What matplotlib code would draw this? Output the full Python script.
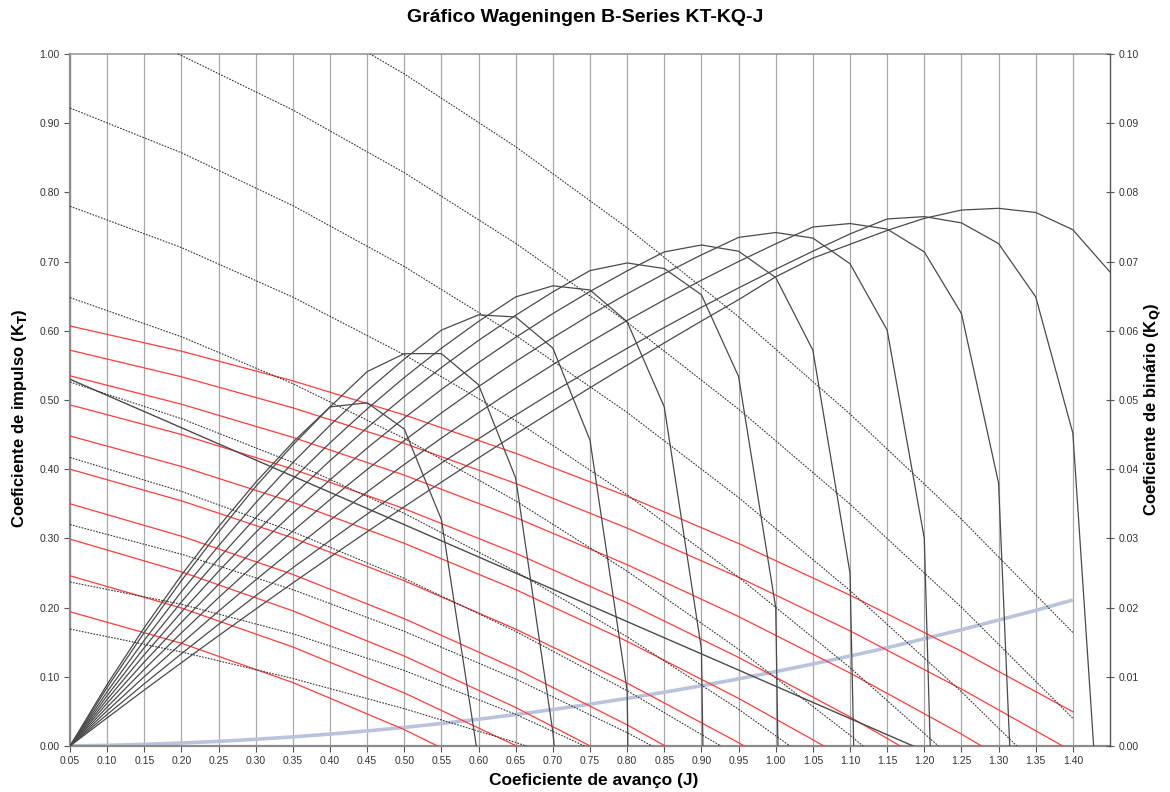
import matplotlib.pyplot as plt

plt.rcParams['font.family'] = ['Liberation Sans', 'DejaVu Sans']

# advance coefficient grids
j_eta = [0.05, 0.10, 0.15, 0.20, 0.25, 0.30, 0.35, 0.40, 0.45, 0.50, 0.55, 0.60, 0.65, 0.70, 0.75,
         0.80, 0.85, 0.90, 0.95, 1.00, 1.05, 1.10, 1.15, 1.20, 1.25, 1.30, 1.35, 1.40, 1.45]
j_k = [0.05, 0.20, 0.35, 0.50, 0.65, 0.80, 0.95, 1.10, 1.25, 1.40]

# KT curves (red), P/D 0.5 .. 1.4
kt_05 = [0.194, 0.1485, 0.0917, 0.0237, -0.0556]
kt_06 = [0.246, 0.1994, 0.1431, 0.0767, 0.0006, -0.0856]
kt_07 = [0.299, 0.2517, 0.1953, 0.130, 0.0557, -0.0276]
kt_08 = [0.350, 0.3032, 0.2479, 0.184, 0.1116, 0.0306, -0.0589]
kt_09 = [0.400, 0.3543, 0.3007, 0.2388, 0.1689, 0.0909, 0.0048, -0.0895]
kt_10 = [0.448, 0.404, 0.3522, 0.2929, 0.2259, 0.1512, 0.0689, -0.021]
kt_11 = [0.493, 0.4502, 0.4001, 0.3429, 0.2785, 0.2069, 0.128, 0.042, -0.0512]
kt_12 = [0.535, 0.4939, 0.446, 0.3914, 0.3301, 0.262, 0.1871, 0.1055, 0.0172, -0.0779]
kt_13 = [0.572, 0.5336, 0.4887, 0.4373, 0.3794, 0.3149, 0.2439, 0.1664, 0.0824, -0.0082]
kt_14 = [0.607, 0.5705, 0.5277, 0.4784, 0.423, 0.361, 0.2927, 0.218, 0.1369, 0.0495]

# KQ curves (dotted, right axis), P/D 0.5 .. 1.4
kq_05 = [0.0169, 0.01359, 0.00975, 0.00539, 0.00051, -0.00489]
kq_06 = [0.0237, 0.02048, 0.01622, 0.01091, 0.00457, -0.00283]
kq_07 = [0.0320, 0.02772, 0.02259, 0.01657, 0.00968, 0.00193, -0.00669]
kq_08 = [0.0417, 0.03679, 0.03097, 0.02422, 0.01656, 0.00799, -0.00151]
kq_09 = [0.0526, 0.0473, 0.04098, 0.03361, 0.02522, 0.01578, 0.00531, -0.00619]
kq_10 = [0.0648, 0.05914, 0.05236, 0.04445, 0.03542, 0.02526, 0.01398, 0.00157, -0.01196]
kq_11 = [0.0780, 0.07203, 0.06487, 0.05654, 0.04701, 0.03629, 0.02439, 0.01132, -0.00295]
kq_12 = [0.0922, 0.08573, 0.07809, 0.06929, 0.05933, 0.0482, 0.03591, 0.02246, 0.00784, -0.00794]
kq_13 = [0.1065, 0.09978, 0.09191, 0.08285, 0.07264, 0.06124, 0.04868, 0.03495, 0.02005, 0.0040]
kq_14 = [0.1217, 0.11467, 0.10649, 0.09712, 0.0866, 0.07489, 0.06203, 0.04798, 0.03278, 0.0164]

# open water efficiency curves, P/D 0.5 .. 1.4
eta_05 = [0, 0.089, 0.171, 0.247, 0.317, 0.381, 0.439, 0.490, 0.496, 0.458, 0.327, -0.021]
eta_06 = [0, 0.0846, 0.164, 0.239, 0.309, 0.375, 0.435, 0.490, 0.541, 0.567, 0.567, 0.522,
          0.387, 0.02, -0.5]
eta_07 = [0, 0.0785, 0.1528, 0.2231, 0.2894, 0.3515, 0.4096, 0.4635, 0.5133, 0.5592, 0.601,
          0.623, 0.620, 0.575, 0.442, 0.08, -3.9]
eta_08 = [0, 0.0728, 0.1422, 0.2082, 0.2708, 0.330, 0.3858, 0.4381, 0.4871, 0.5325, 0.5748,
          0.6136, 0.649, 0.665, 0.659, 0.613, 0.490, 0.14, -3.36]
eta_09 = [0, 0.0673, 0.1319, 0.1936, 0.2525, 0.3086, 0.3619, 0.4124, 0.460, 0.5049, 0.5469,
          0.5861, 0.6225, 0.6562, 0.687, 0.698, 0.690, 0.652, 0.534, 0.20, -3.13]
eta_10 = [0, 0.0619, 0.1214, 0.1787, 0.2336, 0.2863, 0.3366, 0.3847, 0.4305, 0.474, 0.5152,
          0.5541, 0.5906, 0.6249, 0.6569, 0.6866, 0.714, 0.724, 0.715, 0.677, 0.572, 0.25, -2.25]
eta_11 = [0, 0.0563, 0.1108, 0.1635, 0.2144, 0.2635, 0.3107, 0.3561, 0.3996, 0.4414, 0.4813,
          0.5194, 0.5557, 0.5901, 0.6228, 0.6535, 0.6825, 0.7097, 0.735, 0.742, 0.734, 0.697,
          0.601, 0.30, -1.575]
eta_12 = [0, 0.0508, 0.1002, 0.1482, 0.1948, 0.240, 0.2838, 0.3262, 0.3672, 0.4068, 0.445,
          0.4818, 0.5171, 0.5511, 0.5837, 0.6149, 0.6447, 0.6731, 0.7001, 0.7257, 0.750, 0.755,
          0.747, 0.714, 0.625, 0.38, -0.887]
eta_13 = [0, 0.0455, 0.0899, 0.1334, 0.1758, 0.2172, 0.2576, 0.2969, 0.3352, 0.3725, 0.4088,
          0.444, 0.4782, 0.5114, 0.5435, 0.5747, 0.6048, 0.6339, 0.662, 0.689, 0.715, 0.740,
          0.7616, 0.765, 0.756, 0.726, 0.649, 0.452, -0.355]
eta_14 = [0, 0.0407, 0.0809, 0.1204, 0.1594, 0.1978, 0.2357, 0.2729, 0.3096, 0.3458, 0.3813,
          0.4163, 0.4507, 0.4845, 0.5177, 0.5504, 0.5825, 0.6141, 0.645, 0.678, 0.705, 0.725,
          0.745, 0.7625, 0.7745, 0.777, 0.771, 0.746, 0.685]

# straight solid line
line_j = [0.05, 1.185]
line_kt = [0.53, 0.0]

# hull curve (light blue)
hull_kt = [0.0, 0.001, 0.0024, 0.0043, 0.0067, 0.0097, 0.0132, 0.0172, 0.0218, 0.0269, 0.0325,
           0.0387, 0.0454, 0.0527, 0.0605, 0.0688, 0.0777, 0.0871, 0.097, 0.1075, 0.1185, 0.130,
           0.142, 0.155, 0.168, 0.182, 0.196, 0.211]

x_ticks = j_eta[:28]
y_ticks = [0.0, 0.1, 0.2, 0.3, 0.4, 0.5, 0.6, 0.7, 0.8, 0.9, 1.0]
y2_ticks = [0.0, 0.01, 0.02, 0.03, 0.04, 0.05, 0.06, 0.07, 0.08, 0.09, 0.10]

W, H = 1170, 792
fig = plt.figure(figsize=(W / 100, H / 100), dpi=100)
ax = fig.add_axes([70 / W, 46 / H, 1040 / W, 692 / H])
ax2 = ax.twinx()

ax.plot(j_eta[:len(hull_kt)], hull_kt, color='#b9c4dc', lw=2.6, zorder=1, solid_capstyle='butt')

for kt in [kt_05, kt_06, kt_07, kt_08, kt_09, kt_10, kt_11, kt_12, kt_13, kt_14]:
    ax.plot(j_k[:len(kt)], kt, color='#ff3b3b', lw=0.9, zorder=3)

for eta in [eta_05, eta_06, eta_07, eta_08, eta_09, eta_10, eta_11, eta_12, eta_13, eta_14]:
    ax.plot(j_eta[:len(eta)], eta, color='#4a4a4a', lw=0.9, zorder=4)

ax.plot(line_j, line_kt, color='#4a4a4a', lw=1.0, zorder=4)

for kq in [kq_05, kq_06, kq_07, kq_08, kq_09, kq_10, kq_11, kq_12, kq_13, kq_14]:
    ax2.plot(j_k[:len(kq)], kq, color='#333333', lw=0.8, linestyle=(0, (1.5, 1.2)), zorder=2)

ax.set_xlim(0.05, 1.45)
ax.set_ylim(0, 1.0)
ax2.set_ylim(0, 0.10)

ax.set_xticks(x_ticks)
ax.set_xticklabels([f'{v:.2f}' for v in x_ticks])
ax.set_yticks(y_ticks)
ax.set_yticklabels([f'{v:.2f}' for v in y_ticks])
ax2.set_yticks(y2_ticks)
ax2.set_yticklabels([f'{v:.2f}' for v in y2_ticks])

ax.grid(axis='x', color='#a8a8a8', lw=0.9)
ax.set_axisbelow(True)

ax.tick_params(axis='both', labelsize=7.5, colors='#555555', labelcolor='#333333', length=4)
ax2.tick_params(axis='y', labelsize=7.5, colors='#555555', labelcolor='#333333', length=6,
                direction='inout')

for sp in ['left', 'bottom']:
    ax.spines[sp].set_color('#8c8c8c')
    ax.spines[sp].set_linewidth(1.6)
ax.spines['top'].set_color('#9a9a9a')
ax.spines['top'].set_linewidth(1.2)
for sp in ['left', 'bottom', 'top']:
    ax2.spines[sp].set_visible(False)
ax.spines['right'].set_visible(False)
ax2.spines['right'].set_color('#555555')
ax2.spines['right'].set_linewidth(1.0)

fig.text(585 / W, 1 - 18 / H, 'Gráfico Wageningen B-Series KT-KQ-J', ha='center', va='center',
         fontsize=14, fontweight='bold')
fig.text(594 / W, 1 - 781 / H, 'Coeficiente de avanço (J)', ha='center', va='center',
         fontsize=12.5, fontweight='bold')
fig.text(20 / W, 1 - 418 / H, r'Coeficiente de impulso (K$_{\mathbf{T}}$)', ha='center',
         va='center', rotation=90, fontsize=12, fontweight='bold')
fig.text(1152 / W, 1 - 409 / H, r'Coeficiente de binário (K$_{\mathbf{Q}}$)', ha='center',
         va='center', rotation=90, fontsize=12, fontweight='bold')

fig.savefig('out.png', dpi=100)
